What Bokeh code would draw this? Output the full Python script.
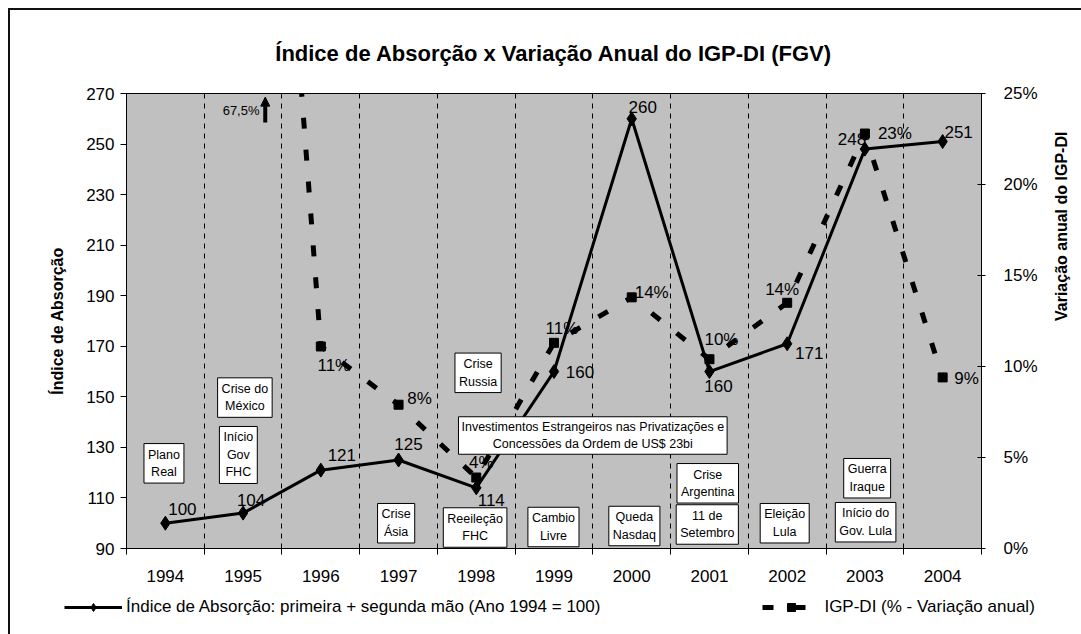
import math
from bokeh.plotting import figure
from bokeh.layouts import column
from bokeh.models import (Range1d, LinearAxis, FixedTicker, Label, Legend, LegendItem,
                          Arrow, NormalHead, ColumnDataSource, Title)
from bokeh.core.properties import value
from bokeh.embed import file_html
from bokeh.resources import INLINE

# ---------------- data ----------------
years = ["1994", "1995", "1996", "1997", "1998", "1999", "2000", "2001", "2002", "2003", "2004"]
indice = [100, 104, 121, 125, 114, 160, 260, 160, 171, 248, 251]
igp_years = ["1995", "1996", "1997", "1998", "1999", "2000", "2001", "2002", "2003", "2004"]
igp = [67.5, 11.1, 7.9, 3.9, 11.3, 13.8, 10.4, 13.5, 22.8, 9.4]
igp_labels = ["67,5%", "11%", "8%", "4%", "11%", "14%", "10%", "14%", "23%", "9%"]
left_ticks = [90, 110, 130, 150, 170, 190, 210, 230, 250, 270]
right_ticks = [0, 5, 10, 15, 20, 25]

events = ["Plano\nReal", "Crise do\nMéxico", "Início\nGov\nFHC", "Crise\nÁsia", "Reeileção\nFHC",
          "Crise\nRussia",
          "Investimentos Estrangeiros nas Privatizações e\nConcessões da Ordem de US$ 23bi",
          "Cambio\nLivre", "Queda\nNasdaq", "Crise\nArgentina", "11 de\nSetembro", "Eleição\nLula",
          "Guerra\nIraque", "Início do\nGov. Lula"]

# layout (positions of annotations, in axis units)
event_x = [0.482, 1.523, 1.439, 3.469, 4.485, 4.523, 5.999, 5.493, 6.534, 7.478, 7.472, 8.468, 9.529, 9.509]
event_y = [123.7, 149.7, 127.0, 100.0, 98.3, 159.5, 134.7, 98.5, 98.9, 115.8, 99.5, 100.0, 117.8, 100.4]
event_pad = [4, 4, 4, 4, 4, 4, 3, 4, 4, 4, 4, 4, 4, 4]
ind_dx = [17, 8, 21, 10, 15, 26, 11, 9, 22, -13, 16]
ind_dy = [-14, -13, -15, -16, 12, 0, -12, 14, 9, -10, -10]
igp_dx = [0, 13, 21, 5, 8, 20, 12, -5, 30, 24]
igp_dy = [0, 19, -6, -15, -14, -5, -20, -13, 0, 1]

FONT = "Liberation Sans"

xs = [years.index(y) + 0.5 for y in years]
igp_xs = [years.index(y) + 0.5 for y in igp_years]

p = figure(width=1071, height=576, output_backend="svg", toolbar_location=None,
           x_range=Range1d(0, len(years)), y_range=Range1d(90, 270),
           min_border_left=116, min_border_right=99, min_border_top=81, min_border_bottom=38,
           background_fill_color="#C0C0C0", border_fill_color="white")
p.extra_y_ranges = {"pct": Range1d(0, 25)}
p.outline_line_color = "black"
p.outline_line_width = 1

p.title = Title(text="Índice de Absorção x Variação Anual do IGP-DI (FGV)", align="center",
                text_font=FONT, text_font_size="22px", text_font_style="bold",
                text_color="black", standoff=56)

# grid: vertical dashed separators at category boundaries
p.ygrid.visible = False
p.xgrid.ticker = FixedTicker(ticks=list(range(1, len(years))))
p.xgrid.grid_line_color = "black"
p.xgrid.grid_line_dash = "5 5"
p.xgrid.grid_line_width = 1

# bottom axis
xa = p.xaxis[0]
xa.ticker = FixedTicker(ticks=xs, minor_ticks=list(range(0, len(years) + 1)))
xa.major_label_overrides = {x: y for x, y in zip(xs, years)}
xa.major_tick_out = 0
xa.major_tick_in = 0
xa.minor_tick_out = 6
xa.minor_tick_in = 0
xa.minor_tick_line_color = "black"
xa.axis_line_color = "black"
xa.major_label_standoff = 15
xa.major_label_text_font = FONT
xa.major_label_text_font_size = "17px"
xa.major_label_text_color = "black"

# left axis
ya = p.yaxis[0]
ya.ticker = FixedTicker(ticks=left_ticks)
ya.minor_tick_line_color = None
ya.major_tick_out = 6
ya.major_tick_in = 0
ya.major_tick_line_color = "black"
ya.axis_line_color = "black"
ya.major_label_text_font = FONT
ya.major_label_text_font_size = "17px"
ya.major_label_text_color = "black"
ya.major_label_standoff = 6
ya.axis_label = "Índice de Absorção"
ya.axis_label_text_font = FONT
ya.axis_label_text_font_size = "16px"
ya.axis_label_text_font_style = "bold"
ya.axis_label_text_color = "black"
ya.axis_label_standoff = 17

# right axis
ra = LinearAxis(y_range_name="pct", ticker=FixedTicker(ticks=right_ticks))
ra.major_label_overrides = {t: f"{t}%" for t in right_ticks}
ra.minor_tick_line_color = None
ra.major_tick_out = 4
ra.major_tick_in = 4
ra.major_tick_line_color = "black"
ra.axis_line_color = "black"
ra.major_label_text_font = FONT
ra.major_label_text_font_size = "17px"
ra.major_label_text_color = "black"
ra.major_label_standoff = 18
ra.axis_label = "Variação anual do IGP-DI"
ra.axis_label_text_font = FONT
ra.axis_label_text_font_size = "16px"
ra.axis_label_text_font_style = "bold"
ra.axis_label_text_color = "black"
ra.axis_label_standoff = 21
ra.axis_label_orientation = math.pi / 2
p.add_layout(ra, "right")

# series
ind_src = ColumnDataSource(dict(x=xs, y=indice, t=[str(v) for v in indice], dx=ind_dx, dy=ind_dy))
igp_src = ColumnDataSource(dict(x=igp_xs, y=igp, t=igp_labels, dx=igp_dx, dy=igp_dy))

IGP_LINE = dict(line_color="black", line_width=5, line_dash="11 21")
IGP_MARK = dict(marker="square", size=9, fill_color="black", line_color="black")
IND_LINE = dict(line_color="black", line_width=3)
IND_MARK = dict(marker="diamond", size=14, fill_color="black", line_color="black")

p.line("x", "y", source=igp_src, y_range_name="pct", **IGP_LINE)
p.scatter("x", "y", source=igp_src, y_range_name="pct", **IGP_MARK)
p.line("x", "y", source=ind_src, **IND_LINE)
p.scatter("x", "y", source=ind_src, **IND_MARK)

# data labels
p.text("x", "y", text="t", source=ind_src, x_offset="dx", y_offset="dy",
       text_align="center", text_baseline="middle", text_font=value(FONT),
       text_font_size="17px", text_color="black")
igp_lab_src = ColumnDataSource(dict(x=igp_xs[1:], y=igp[1:], t=igp_labels[1:],
                                    dx=igp_dx[1:], dy=igp_dy[1:]))
p.text("x", "y", text="t", source=igp_lab_src, y_range_name="pct", x_offset="dx", y_offset="dy",
       text_align="center", text_baseline="middle", text_font=value(FONT),
       text_font_size="17px", text_color="black")

# off-scale marker for 1995 (67,5%)
top = p.extra_y_ranges["pct"].end
p.add_layout(Label(x=igp_xs[0], y=top - 0.95, y_range_name="pct", text=igp_labels[0],
                   x_offset=-2, text_align="center", text_baseline="middle",
                   text_font=FONT, text_font_size="13px", text_color="black"))
p.add_layout(Arrow(x_start=igp_xs[0] + 0.285, y_start=top - 1.6,
                   x_end=igp_xs[0] + 0.285, y_end=top - 0.2, y_range_name="pct",
                   line_width=4, line_color="black",
                   end=NormalHead(size=9, fill_color="black", line_color="black")))

# event boxes
for t, x, y, pad in zip(events, event_x, event_y, event_pad):
    p.add_layout(Label(x=x, y=y, text=t, text_align="center", text_baseline="middle",
                       text_font=FONT, text_font_size="12.5px", text_color="black",
                       text_line_height=1.25,
                       background_fill_color="white", border_line_color="black",
                       border_line_width=1, padding=pad))

# legend strip below the chart (its own small plot; legend glyph renderers use the data
# but fall outside this strip's ranges, so only the legend is visible)
lg = figure(width=1071, height=48, output_backend="svg", toolbar_location=None,
            x_range=Range1d(-1000, -999), y_range=Range1d(-1000, -999),
            min_border_left=0, min_border_right=0, min_border_top=0, min_border_bottom=0,
            background_fill_color="white", border_fill_color="white")
lg.axis.visible = False
lg.grid.visible = False
lg.outline_line_color = None
r1 = lg.line(xs, indice, **IND_LINE)
r2 = lg.scatter(xs, indice, **IND_MARK)
r3 = lg.line(igp_xs, igp, **IGP_LINE)
r4 = lg.scatter(igp_xs, igp, **IGP_MARK)
legend = Legend(items=[
    LegendItem(label="Índice de Absorção: primeira + segunda mão (Ano 1994 = 100)", renderers=[r1, r2]),
    LegendItem(label="IGP-DI (% - Variação anual)", renderers=[r3, r4]),
], orientation="horizontal", location=(54, 17), glyph_width=58, glyph_height=20,
    label_text_font=FONT, label_text_font_size="17px", label_text_color="black",
    spacing=162, padding=0, margin=0, border_line_color=None, background_fill_alpha=0,
    label_standoff=4)
lg.add_layout(legend, "center")

layout = column(p, column(lg, spacing=0), spacing=0,
                styles={"margin-left": "8px", "margin-top": "8px",
                        "border-left": "2px solid #111", "border-top": "2px solid #111"})

open("out.html", "w").write(file_html(layout, INLINE))
